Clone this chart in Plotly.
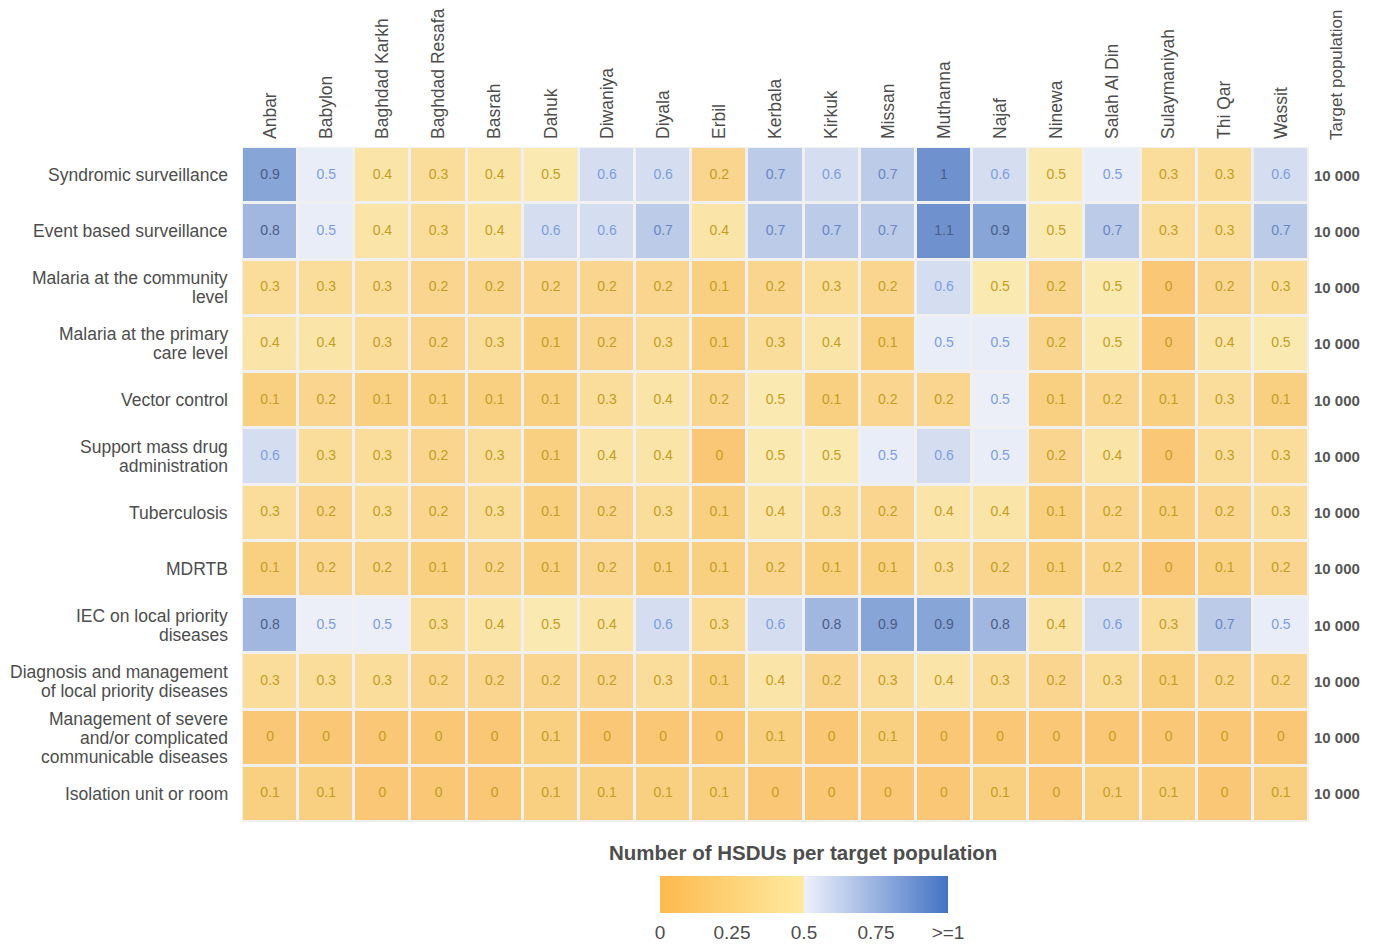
import plotly.graph_objects as go

governorates = ["Anbar", "Babylon", "Baghdad Karkh", "Baghdad Resafa", "Basrah", "Dahuk",
                "Diwaniya", "Diyala", "Erbil", "Kerbala", "Kirkuk", "Missan", "Muthanna",
                "Najaf", "Ninewa", "Salah Al Din", "Sulaymaniyah", "Thi Qar", "Wassit"]

services = ["Syndromic surveillance", "Event based surveillance",
            "Malaria at the community<br>level", "Malaria at the primary<br>care level",
            "Vector control", "Support mass drug<br>administration", "Tuberculosis", "MDRTB",
            "IEC on local priority<br>diseases", "Diagnosis and management<br>of local priority diseases",
            "Management of severe<br>and/or complicated<br>communicable diseases",
            "Isolation unit or room"]

syndromic = [0.9, 0.52, 0.4, 0.3, 0.4, 0.48, 0.6, 0.6, 0.2, 0.7, 0.6, 0.7, 1.0, 0.6, 0.48, 0.52, 0.3, 0.3, 0.6]
event_based = [0.8, 0.52, 0.4, 0.3, 0.4, 0.6, 0.6, 0.7, 0.4, 0.7, 0.7, 0.7, 1.1, 0.9, 0.48, 0.7, 0.3, 0.3, 0.7]
malaria_community = [0.3, 0.3, 0.3, 0.2, 0.2, 0.2, 0.2, 0.2, 0.1, 0.2, 0.3, 0.2, 0.6, 0.48, 0.2, 0.48, 0, 0.2, 0.3]
malaria_primary = [0.4, 0.4, 0.3, 0.2, 0.3, 0.1, 0.2, 0.3, 0.1, 0.3, 0.4, 0.1, 0.52, 0.52, 0.2, 0.48, 0, 0.4, 0.48]
vector_control = [0.1, 0.2, 0.1, 0.1, 0.1, 0.1, 0.3, 0.4, 0.2, 0.48, 0.1, 0.2, 0.2, 0.51, 0.1, 0.2, 0.1, 0.3, 0.1]
mass_drug = [0.6, 0.3, 0.3, 0.2, 0.3, 0.1, 0.4, 0.4, 0, 0.48, 0.48, 0.52, 0.6, 0.52, 0.2, 0.4, 0, 0.3, 0.3]
tuberculosis = [0.3, 0.2, 0.3, 0.2, 0.3, 0.1, 0.2, 0.3, 0.1, 0.4, 0.3, 0.2, 0.4, 0.4, 0.1, 0.2, 0.1, 0.2, 0.3]
mdrtb = [0.1, 0.2, 0.2, 0.1, 0.2, 0.1, 0.2, 0.1, 0.1, 0.2, 0.1, 0.1, 0.3, 0.2, 0.1, 0.2, 0, 0.1, 0.2]
iec = [0.8, 0.51, 0.51, 0.3, 0.4, 0.48, 0.4, 0.6, 0.3, 0.6, 0.8, 0.9, 0.9, 0.8, 0.4, 0.6, 0.3, 0.7, 0.52]
diagnosis = [0.3, 0.3, 0.3, 0.2, 0.2, 0.2, 0.2, 0.3, 0.1, 0.4, 0.2, 0.3, 0.4, 0.3, 0.2, 0.3, 0.1, 0.2, 0.2]
severe = [0, 0, 0, 0, 0, 0.1, 0, 0, 0, 0.1, 0, 0.1, 0, 0, 0, 0, 0, 0, 0]
isolation = [0.1, 0.1, 0, 0, 0, 0.1, 0.1, 0.1, 0.1, 0, 0, 0, 0, 0.1, 0, 0.1, 0.1, 0, 0.1]

target_population = ["10 000"] * 12

cbar_tickvals = [0, 0.25, 0.5, 0.75, 1]
cbar_ticktext = ["0", "0.25", "0.5", "0.75", ">=1"]

z = [syndromic, event_based, malaria_community, malaria_primary, vector_control, mass_drug,
     tuberculosis, mdrtb, iec, diagnosis, severe, isolation]

FONT = "Liberation Sans, Arial, sans-serif"
GREY = "#4D4D4D"

# page has an 8px body margin; figure sized so the plot lands where the reference has it
W, H = 1360, 939
OFF = 8
PL, PR, PT, PB = 242, 1309, 147, 822   # plot area in screen pixels
pw, ph = PR - PL, PB - PT

CB_L, CB_R, CB_T, CB_B = 660, 948, 876, 913   # colour bar in screen pixels


def px_x(sx):
    return (sx - PL) / pw


def px_y(sy):
    return (PB - sy) / ph


colorscale = [[0.0, "#FDBA4E"], [0.4999, "#FEEAA0"], [0.5, "#EEF1FC"], [1.0, "#4473C4"]]

fig = go.Figure()
fig.add_trace(go.Heatmap(
    z=z, x=governorates, y=services, zmin=0, zmax=1, colorscale=colorscale,
    xgap=3, ygap=3, opacity=0.75, hoverinfo="skip",
    colorbar=dict(orientation="h",
                  x=px_x((CB_L + CB_R) / 2), xanchor="center", y=px_y(CB_T), yanchor="top",
                  len=CB_R - CB_L, lenmode="pixels", thickness=CB_B - CB_T, thicknessmode="pixels",
                  xpad=0, ypad=0, outlinewidth=0,
                  tickvals=cbar_tickvals, ticktext=cbar_ticktext,
                  ticks="outside", tickcolor="rgba(0,0,0,0)", ticklen=4,
                  tickfont=dict(size=19, color=GREY, family=FONT)),
))

# small white tick marks on the colour bar edges
for tv in cbar_tickvals:
    xp = px_x(CB_L + tv * (CB_R - CB_L))
    for y0, y1 in ((CB_T, CB_T + 4), (CB_B - 4, CB_B)):
        fig.add_shape(type="line", xref="paper", yref="paper", x0=xp, x1=xp,
                      y0=px_y(y0), y1=px_y(y1), line=dict(color="white", width=1.2))


def text_color(v):
    if v < 0.5:
        return "#C49E1C"
    if v < 0.65:
        return "#7C9DE2"
    if v < 0.8:
        return "#6A85C6"
    return "#4A5C88"


xs, ys, ts, cs = [], [], [], []
for r, row in enumerate(z):
    for c, v in enumerate(row):
        xs.append(governorates[c])
        ys.append(services[r])
        ts.append(f"{round(v, 1):g}")
        cs.append(text_color(v))

fig.add_trace(go.Scatter(x=xs, y=ys, mode="text", text=ts,
                         textfont=dict(size=14, color=cs, family=FONT),
                         hoverinfo="skip", showlegend=False))

# row labels (tight line spacing like the reference)
LINE = 19
for s in services:
    lines = s.split("<br>")
    n = len(lines)
    for i, ln in enumerate(lines):
        fig.add_annotation(x=0, xref="paper", y=s, yref="y", text=ln, showarrow=False,
                           xanchor="right", yanchor="middle", xshift=-12,
                           yshift=((n - 1) / 2 - i) * LINE,
                           font=dict(size=17.5, color=GREY, family=FONT))

for r, s in enumerate(services):
    fig.add_annotation(x=px_x(1337), xref="paper", y=s, yref="y", text=f"<b>{target_population[r]}</b>",
                       showarrow=False, xanchor="center", yanchor="middle",
                       font=dict(size=15, color="#555555", family=FONT))

fig.add_annotation(x=px_x(1337), xref="paper", y=px_y(75), yref="paper", text="Target population",
                   textangle=-90, showarrow=False, xanchor="center", yanchor="middle",
                   borderpad=0,
                   font=dict(size=17, color=GREY, family=FONT))

fig.add_annotation(x=px_x(803), xref="paper", y=px_y(852), yref="paper",
                   text="<b>Number of HSDUs per target population</b>", showarrow=False,
                   xanchor="center", yanchor="middle",
                   font=dict(size=20.5, color=GREY, family=FONT))

fig.update_layout(
    width=W, height=H,
    margin=dict(l=PL - OFF, r=W - (PR - OFF), t=PT - OFF, b=H - (PB - OFF), autoexpand=False),
    paper_bgcolor="white", plot_bgcolor="#F0F0F0",
    font=dict(family=FONT, color=GREY),
    showlegend=False,
    xaxis=dict(side="top", tickangle=-90, showgrid=False, zeroline=False, ticks="",
               range=[-0.5, len(governorates) - 0.5], automargin=False,
               ticklabelstandoff=7,
               tickfont=dict(size=17.5, color=GREY, family=FONT)),
    yaxis=dict(range=[len(services) - 0.5, -0.5], showgrid=False, zeroline=False, ticks="",
               showticklabels=False, automargin=False),
)

fig.write_html("out.html")
